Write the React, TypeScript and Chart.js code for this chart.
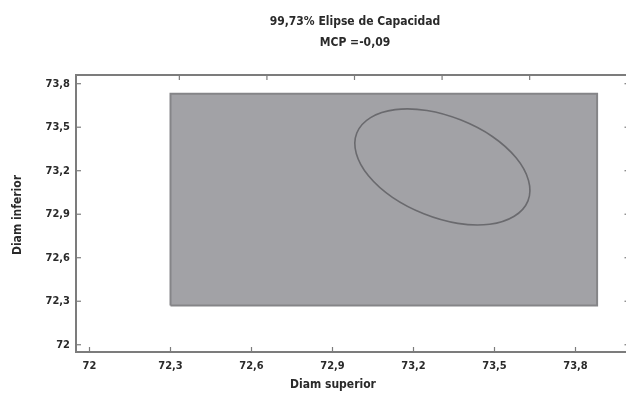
import React, { useEffect, useRef } from "react";
import { Chart, registerables } from "chart.js";

Chart.register(...registerables);

// ---- data ----
const titleLine1 = "99,73% Elipse de Capacidad";
const titleLine2 = "MCP =-0,09";
const xAxisTitle = "Diam superior";
const yAxisTitle = "Diam inferior";

const xTickValues = [72, 72.3, 72.6, 72.9, 73.2, 73.5, 73.8];
const yTickValues = [72, 72.3, 72.6, 72.9, 73.2, 73.5, 73.8];

// specification rectangle (corners, closed)
const specX = [72.3, 73.88, 73.88, 72.3, 72.3];
const specY = [72.27, 72.27, 73.73, 73.73, 72.27];

// 99.73% capability ellipse (a closed loop)
const ellipseX = [73.624, 73.573, 73.482, 73.364, 73.238, 73.122, 73.034, 72.988, 72.99, 73.041, 73.132, 73.25, 73.376, 73.492, 73.58, 73.626];
const ellipseY = [72.992, 72.886, 72.831, 72.837, 72.903, 73.016, 73.163, 73.319, 73.46, 73.566, 73.621, 73.615, 73.549, 73.436, 73.289, 73.133];

const FONT = "'DejaVu Sans Condensed', 'DejaVu Sans', sans-serif";
const TEXT = "#2a2a2a";
const FRAME = "#7c7c7c";
const ELLIPSE_COLOR = "#6a6a6e";

const fmt = (v: number) => String(v).replace(".", ",");

// closed loop: wrap one point on each side; the two wrap segments are hidden
const ellipsePts = ellipseX.map((x, i) => ({ x, y: ellipseY[i] }));
const loopPts = [ellipsePts[ellipsePts.length - 1], ...ellipsePts, ellipsePts[0], ellipsePts[1]];

const decor = {
  id: "decor",
  afterDraw(chart: any) {
    const { ctx, chartArea: a, scales } = chart;
    ctx.save();
    ctx.strokeStyle = FRAME;
    ctx.lineWidth = 2;
    ctx.strokeRect(a.left, a.top, a.right - a.left, a.bottom - a.top);
    ctx.lineWidth = 1.2;
    const L = 5;
    const seg = (x1: number, y1: number, x2: number, y2: number) => {
      ctx.beginPath();
      ctx.moveTo(x1, y1);
      ctx.lineTo(x2, y2);
      ctx.stroke();
    };
    scales.x.ticks.forEach((t: any) => {
      const p = scales.x.getPixelForValue(t.value);
      seg(p, a.bottom, p, a.bottom - L);
    });
    if (scales.x2) {
      scales.x2.ticks.forEach((t: any) => {
        const p = scales.x2.getPixelForValue(t.value);
        if (p > a.left + 2 && p < a.right - 2) seg(p, a.top, p, a.top + L);
      });
    }
    scales.y.ticks.forEach((t: any) => {
      const p = scales.y.getPixelForValue(t.value);
      seg(a.left, p, a.left + L, p);
      seg(a.right, p, a.right - L, p);
    });
    ctx.fillStyle = TEXT;
    ctx.textAlign = "center";
    ctx.textBaseline = "middle";
    ctx.font = `bold 12px ${FONT}`;
    ctx.fillText(titleLine1, 355, 22);
    ctx.fillText(titleLine2, 355, 43);
    ctx.fillText(xAxisTitle, 333, 385);
    ctx.translate(18, 215);
    ctx.rotate(-Math.PI / 2);
    ctx.fillText(yAxisTitle, 0, 0);
    ctx.restore();
  },
};

export default function App() {
  const ref = useRef<HTMLCanvasElement>(null);
  useEffect(() => {
    if (!ref.current) return;
    const last = loopPts.length - 1;
    const chart = new Chart(ref.current, {
      type: "scatter",
      data: {
        datasets: [
          {
            data: loopPts,
            showLine: true,
            fill: false,
            borderColor: ELLIPSE_COLOR,
            borderWidth: 1.6,
            pointRadius: 0,
            tension: 0.4,
            segment: {
              borderColor: (c: any) =>
                c.p0DataIndex === 0 || c.p1DataIndex === last ? "rgba(0,0,0,0)" : ELLIPSE_COLOR,
            },
          } as any,
          {
            data: specX.map((x, i) => ({ x, y: specY[i] })),
            showLine: true,
            fill: "shape",
            backgroundColor: "#a2a2a6",
            borderColor: "#858588",
            borderWidth: 2,
            pointRadius: 0,
            tension: 0,
          } as any,
        ],
      },
      options: {
        responsive: false,
        animation: false,
        devicePixelRatio: 1,
        layout: { padding: { top: 75, right: 4.5, left: 0, bottom: 0 } },
        plugins: { legend: { display: false }, tooltip: { enabled: false }, title: { display: false } },
        scales: {
          x: {
            type: "linear",
            position: "bottom",
            min: 71.95,
            max: 74.0,
            afterBuildTicks: (s: any) => {
              s.ticks = xTickValues.map((v) => ({ value: v }));
            },
            afterFit: (s: any) => {
              s.height = 41;
            },
            grid: { display: false, drawTicks: false },
            border: { display: false },
            ticks: {
              padding: 8,
              color: TEXT,
              font: { family: FONT, size: 11, weight: "bold" },
              callback: (v: any) => fmt(v),
              maxRotation: 0,
              autoSkip: false,
            },
          },
          x2: {
            type: "linear",
            position: "top",
            display: true,
            min: -0.18,
            max: 6.14,
            afterFit: (s: any) => {
              s.height = 0;
            },
            grid: { display: false, drawTicks: false },
            border: { display: false },
            ticks: { stepSize: 1, display: false },
          },
          y: {
            type: "linear",
            min: 71.95,
            max: 73.86,
            afterBuildTicks: (s: any) => {
              s.ticks = yTickValues.map((v) => ({ value: v }));
            },
            afterFit: (s: any) => {
              s.width = 76;
            },
            grid: { display: false, drawTicks: false },
            border: { display: false },
            ticks: {
              padding: 6,
              color: TEXT,
              font: { family: FONT, size: 11, weight: "bold" },
              callback: (v: any) => fmt(v),
              autoSkip: false,
            },
          },
        },
      } as any,
      plugins: [decor],
    });
    return () => chart.destroy();
  }, []);
  return (
    <div
      style={{
        position: "absolute",
        left: 0,
        top: 0,
        width: 626,
        height: 393,
        overflow: "hidden",
        background: "#fff",
      }}
    >
      <canvas ref={ref} width={634} height={393} style={{ width: 634, height: 393, display: "block" }} />
    </div>
  );
}
